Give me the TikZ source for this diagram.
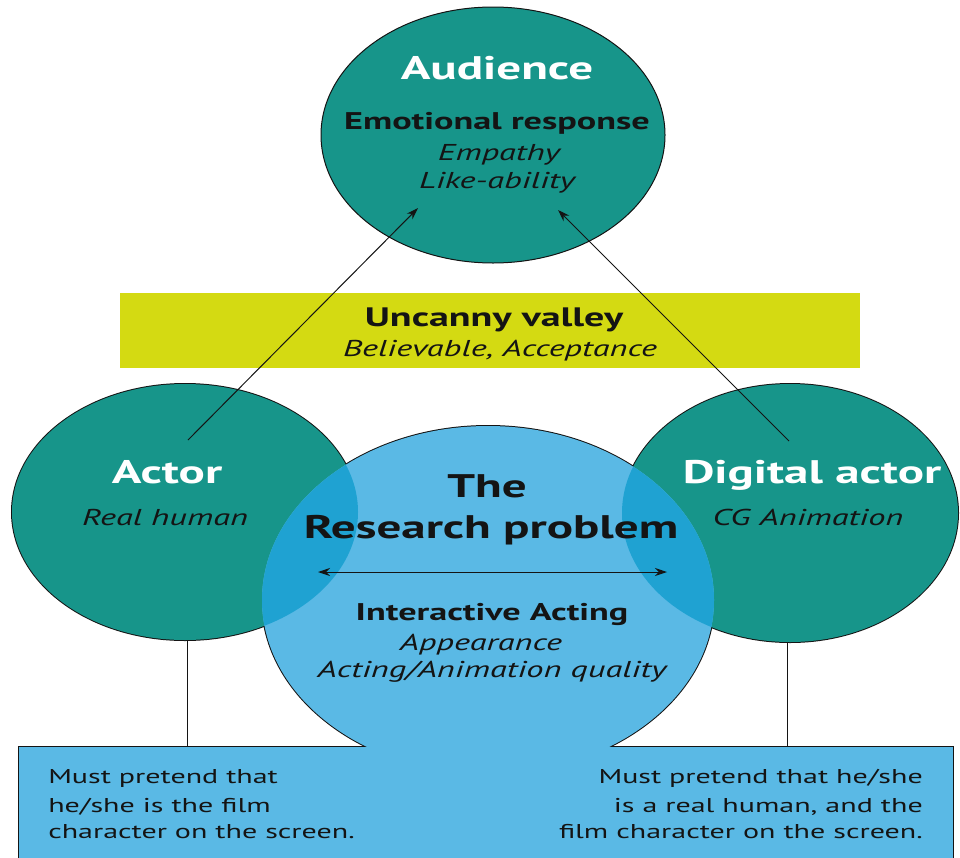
\documentclass[tikz,border=0pt]{standalone}
\usepackage{fontspec}
\setmainfont{PT Sans}[FakeStretch=1.5]
\usetikzlibrary{arrows.meta}
\definecolor{tealc}{HTML}{17958A}
\definecolor{skyc}{HTML}{5AB9E5}
\definecolor{overc}{HTML}{1FA2D2}
\definecolor{limec}{HTML}{D4DA12}
\definecolor{inkc}{HTML}{141414}
\begin{document}
\begin{tikzpicture}[x=0.75pt,y=-0.75pt,
  bighead/.style={font=\bfseries\fontsize{24.5}{28}\selectfont, anchor=base, inner sep=0},
  whitehead/.style={bighead, text=white},
  subhead/.style={font=\bfseries\fontsize{18.1}{22}\selectfont, anchor=base, inner sep=0, text=inkc},
  itl/.style={font=\itshape\fontsize{17.2}{20}\selectfont, anchor=base, inner sep=0, text=inkc},
  bodyl/.style={font=\fontsize{15}{20}\selectfont, anchor=base west, inner sep=0, text=inkc},
  bodyr/.style={font=\fontsize{15}{20}\selectfont, anchor=base east, inner sep=0, text=inkc},
  conn/.style={draw=inkc, line width=0.75pt},
  arr/.style={conn, -{Stealth[length=9pt,width=6pt]}},
  darr/.style={conn, {Stealth[length=9pt,width=6pt]}-{Stealth[length=9pt,width=6pt]}}
]
\useasboundingbox (0,0) rectangle (960,857);
\def\pAud{(493,135) ellipse [x radius=172, y radius=128]}
\def\pAct{(185,512) ellipse [x radius=173, y radius=128]}
\def\pDig{(790,513) ellipse [x radius=168, y radius=129]}
\def\pRes{(488,600) ellipse [x radius=226, y radius=174]}
\def\pBox{(19,747) rectangle (953,880)}

% audience
\draw[conn, fill=tealc] \pAud;
% uncanny band
\fill[limec] (120,293) rectangle (860,368);

% outlines of the lower group (outer half stays visible)
\draw[draw=inkc, line width=1.5pt] \pAct;
\draw[draw=inkc, line width=1.5pt] \pDig;
\draw[draw=inkc, line width=1.5pt] \pRes;
\draw[draw=inkc, line width=1.5pt] \pBox;
% fills
\fill[tealc] \pAct;
\fill[tealc] \pDig;
\fill[skyc] \pRes;
\fill[skyc] \pBox;
\begin{scope}
  \clip \pRes;
  \fill[overc] \pAct;
  \fill[overc] \pDig;
\end{scope}

% named anchor points
\coordinate (actTail) at (188,440);
\coordinate (audL) at (418,208);
\coordinate (digTail) at (789,441);
\coordinate (audR) at (558,210);
\coordinate (resL) at (318,572);
\coordinate (resR) at (667,572);
\coordinate (actBot) at (187,640);
\coordinate (boxL) at (187,747);
\coordinate (digBot) at (787,642);
\coordinate (boxR) at (787,747);

% texts
\node[whitehead] (tAud) at (497,79) {Audience};
\node[subhead] (tEmo) at (497,129) {Emotional response};
\node[itl] (tEmp) at (499,160) {Empathy};
\node[itl] (tLike) at (497,188) {Like-ability};

\node[subhead, font=\bfseries\fontsize{20}{24}\selectfont] (tUnc) at (494,326) {Uncanny valley};
\node[itl] (tBel) at (500,356) {Believable, Acceptance};

\node[whitehead] (tAct) at (167,483) {Actor};
\node[itl] (tReal) at (165,525) {Real human};
\node[whitehead] (tDig) at (812,483) {Digital actor};
\node[itl] (tCG) at (808,525) {CG Animation};

\node[bighead, text=inkc] (tThe) at (487,497) {The};
\node[bighead, text=inkc] (tRes) at (491,538) {Research problem};
\node[subhead] (tInt) at (492,620) {Interactive Acting};
\node[itl] (tApp) at (481,650) {Appearance};
\node[itl] (tQual) at (492,677) {Acting/Animation quality};

\node[bodyl] (l1) at (48,783) {Must pretend that};
\node[bodyl] (l2) at (48,812) {he/she is the film};
\node[bodyl] (l3) at (48,838) {character on the screen.};
\node[bodyr] (r1) at (923,783) {Must pretend that he/she};
\node[bodyr] (r2) at (923,812) {is a real human, and the};
\node[bodyr] (r3) at (923,838) {film character on the screen.};

% connectors
\draw[arr] (actTail) -- (audL);
\draw[arr] (digTail) -- (audR);
\draw[darr] (resL) -- (resR);
\draw[conn] (actBot) -- (boxL);
\draw[conn] (digBot) -- (boxR);
\end{tikzpicture}
\end{document}
